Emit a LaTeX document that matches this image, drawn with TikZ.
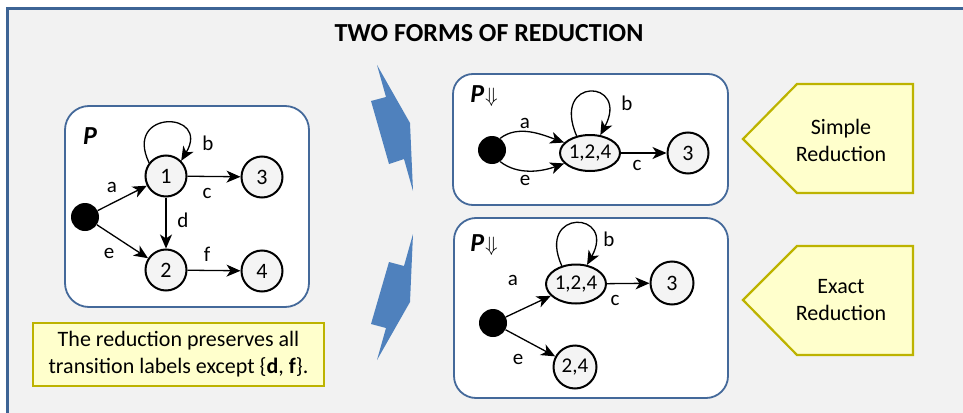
\documentclass[tikz,border=0pt]{standalone}
\usepackage{fontspec}
\setmainfont{Carlito}
\usetikzlibrary{arrows.meta,shapes.geometric}
\definecolor{framecol}{HTML}{3D6495}
\definecolor{bggray}{HTML}{F2F2F2}
\definecolor{boxblue}{HTML}{44699A}
\definecolor{statefill}{HTML}{F4F4F4}
\definecolor{flowblue}{HTML}{4F81BD}
\definecolor{notefill}{HTML}{FFFFCC}
\definecolor{noteedge}{HTML}{BDB300}
\begin{document}
\begin{tikzpicture}[x=1pt,y=-1pt,
  procbox/.style={draw=boxblue, line width=1.8pt, fill=white, rounded corners=24pt, inner sep=0pt},
  state/.style={circle, draw, line width=2pt, fill=statefill, minimum size=41pt, inner sep=0pt, font=\fontsize{22}{24}\selectfont},
  merged/.style={ellipse, draw, line width=2pt, fill=statefill, minimum width=59pt, minimum height=36pt, inner sep=0pt, font=\fontsize{21}{24}\selectfont},
  initdot/.style={circle, fill=black, minimum size=28pt, inner sep=0pt},
  tr/.style={-{Stealth[length=14pt,width=12pt,inset=4pt]}, line width=1.3pt},
  lbl/.style={font=\fontsize{21}{24}\selectfont, inner sep=0pt},
  procname/.style={font=\fontsize{26}{30}\selectfont\bfseries\itshape, inner sep=0pt},
  notetext/.style={font=\fontsize{22}{27}\selectfont, align=center, inner sep=0pt},
  note/.style={draw=noteedge, line width=2.2pt, fill=notefill},
  flow/.style={fill=flowblue}
]
\useasboundingbox (0,0) rectangle (963,412);
\fill[white] (0,0) rectangle (963,412);
\begin{scope}
  \clip (0,0) rectangle (963,412);
  \draw[framecol, line width=3pt, fill=bggray] (7.5,8.5) rectangle (1100,600);
\end{scope}

% title
\node[font=\fontsize{26}{30}\selectfont\bfseries] (title) at (489,33) {TWO FORMS OF REDUCTION};

% ---------- original process P ----------
\node[procbox, minimum width=244pt, minimum height=201pt] (boxP) at (187,206.5) {};
\node[procname] (nameP) at (90,136) {P};
\node[initdot] (p0) at (85,217) {};
\node[state] (p1) at (166,176) {1};
\node[state] (p3) at (262,177) {3};
\node[state] (p2) at (166,270) {2};
\node[state] (p4) at (262,271) {4};
\draw[tr] (p0) -- (p1);
\draw[tr] (p0) -- (p2);
\draw[tr] (p1) -- (p3);
\draw[tr] (p2) -- (p4);
\draw[tr] (p1) -- (p2);
\draw[tr] (p1.142) .. controls +(-26,-54) and +(30,-50) .. (p1.45);
\node[lbl] (pa) at (112,187) {a};
\node[lbl] (pe) at (109,253) {e};
\node[lbl] (pc) at (207,193) {c};
\node[lbl] (pf) at (207,254) {f};
\node[lbl] (pd) at (183,220) {d};
\node[lbl] (pb) at (208,143) {b};

% ---------- simple reduction ----------
\node[procbox, minimum width=275pt, minimum height=131pt, rounded corners=20pt] (boxS) at (590.5,139.5) {};
\node[procname] (nameS) at (484,96) {P\kern1pt{\normalfont\fontsize{20}{24}\selectfont$\Downarrow$}};
\node[initdot] (s0) at (492,150) {};
\node[merged] (s124) at (590,153) {1,2,4};
\node[state] (s3) at (688,153) {3};
\draw[tr] (s0.55) .. controls +(18,-14) and +(-22,-8) .. (s124.158);
\draw[tr] (s0.-55) .. controls +(18,14) and +(-22,8) .. (s124.202);
\draw[tr] (s124) -- (s3);
\draw[tr] (s124.128) .. controls +(-26,-60) and +(30,-56) .. (s124.60);
\node[lbl] (sa) at (525,123) {a};
\node[lbl] (se) at (525,180) {e};
\node[lbl] (sc) at (637,165) {c};
\node[lbl] (sb) at (627,103) {b};

% ---------- exact reduction ----------
\node[procbox, minimum width=274pt, minimum height=180pt, rounded corners=22pt] (boxE) at (591,308) {};
\node[procname] (nameE) at (484,245) {P\kern1pt{\normalfont\fontsize{20}{24}\selectfont$\Downarrow$}};
\node[initdot] (e0) at (493,323) {};
\node[merged, minimum height=39pt] (e124) at (576,284) {1,2,4};
\node[state, minimum size=43pt] (e3) at (672,283) {3};
\node[state, minimum size=43pt, font=\fontsize{21}{24}\selectfont] (e24) at (575,367) {2,4};
\draw[tr] (e0) -- (e124);
\draw[tr] (e0) -- (e24);
\draw[tr] (e124) -- (e3);
\draw[tr] (e124.128) .. controls +(-26,-58) and +(30,-54) .. (e124.60);
\node[lbl] (ea) at (513,280) {a};
\node[lbl] (ee) at (518,359) {e};
\node[lbl] (ec) at (615,300) {c};
\node[lbl] (eb) at (609,239) {b};

% ---------- flow arrows ----------
\fill[flow] (377,65) -- (410,123) -- (413,191) -- (404,159) -- (389,164) -- (371,101) -- (386,97) -- cycle;
\fill[flow] (413,234) -- (410,302) -- (377,360) -- (386,328) -- (371,324) -- (389,262) -- (404,266) -- cycle;

% ---------- callouts ----------
\draw[note] (743,139) -- (797,84) -- (913,84) -- (913,193) -- (797,193) -- cycle;
\node[notetext] (simple) at (841,140) {Simple\\Reduction};
\draw[note] (743,300) -- (797,246) -- (913,246) -- (913,355) -- (797,355) -- cycle;
\node[notetext] (exact) at (841,300) {Exact\\Reduction};

\node[note, minimum width=291pt, minimum height=63pt, notetext] (remark) at (178.5,354.5)
  {The reduction preserves all\\transition labels except \{\textbf{d}, \textbf{f}\}.};
\end{tikzpicture}
\end{document}
